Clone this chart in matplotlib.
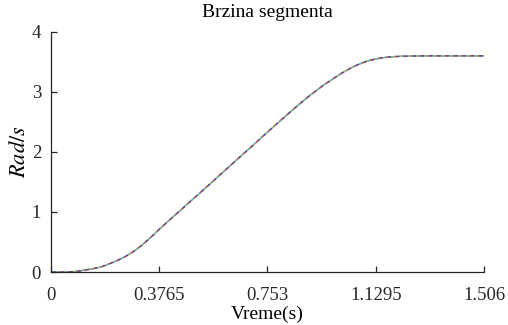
"""Brzina segmenta - velocity profile of the segment."""
import matplotlib
matplotlib.use("Agg")
import matplotlib.pyplot as plt

plt.rcParams['font.family'] = ['Liberation Serif', 'DejaVu Serif']
plt.rcParams['mathtext.fontset'] = 'stix'

# time (s) and angular velocity (rad/s)
vreme = [0.0, 0.057, 0.09, 0.114, 0.14, 0.172, 0.2, 0.23, 0.26, 0.287,
         0.315, 0.346, 0.3765, 0.41, 0.444, 0.48, 0.519, 0.554, 0.6, 0.65,
         0.7, 0.753, 0.8, 0.85, 0.9, 0.95, 0.982, 1.01, 1.04, 1.07,
         1.098, 1.125, 1.155, 1.185, 1.213, 1.25, 1.3, 1.4, 1.506]
brzina = [0.0, 0.0, 0.01, 0.03, 0.05, 0.08, 0.13, 0.19, 0.26, 0.34,
          0.44, 0.57, 0.71, 0.855, 1.0, 1.155, 1.32, 1.47, 1.67, 1.885,
          2.10, 2.33, 2.53, 2.74, 2.94, 3.12, 3.22, 3.31, 3.39, 3.46,
          3.51, 3.545, 3.57, 3.585, 3.592, 3.597, 3.6, 3.6, 3.6]

x_ticks = [0, 0.3765, 0.753, 1.1295, 1.506]
x_tick_labels = ['0', '0.3765', '0.753', '1.1295', '1.506']
y_ticks = [0, 1, 2, 3, 4]

# MATLAB default colour order, several overlapping traces of the same signal
line_styles = [
    ('#0072BD', '-'),
    ('#D95319', (0, (2, 4))),
    ('#EDB120', (2, (2, 4))),
    ('#7E2F8E', (4, (1.5, 4.5))),
    ('#4DBEEE', (1, (1.5, 4.5))),
]

fig = plt.figure(figsize=(5.08, 3.25), dpi=100)
ax = fig.add_axes([0.1, 0.163, 0.853, 0.739])

for color, ls in line_styles:
    ax.plot(vreme, brzina, color=color, linestyle=ls, linewidth=1.0)

ax.set_xlim(0, 1.506)
ax.set_ylim(0, 4)
ax.set_xticks(x_ticks)
ax.set_xticklabels(x_tick_labels)
ax.set_yticks(y_ticks)

for side in ('top', 'right'):
    ax.spines[side].set_visible(False)
for side in ('left', 'bottom'):
    ax.spines[side].set_color('#262626')
    ax.spines[side].set_linewidth(0.9)

ax.tick_params(direction='in', length=4, width=0.9, colors='#262626',
               labelsize=13.5)
ax.tick_params(axis='x', pad=11)
ax.tick_params(axis='y', pad=7)

ax.set_title('Brzina segmenta', fontsize=14, pad=11)
ax.set_xlabel('Vreme(s)', fontsize=14, labelpad=1)
ax.set_ylabel(r'$Rad/s$', fontsize=16, labelpad=1)

fig.savefig('out.png', dpi=100)
